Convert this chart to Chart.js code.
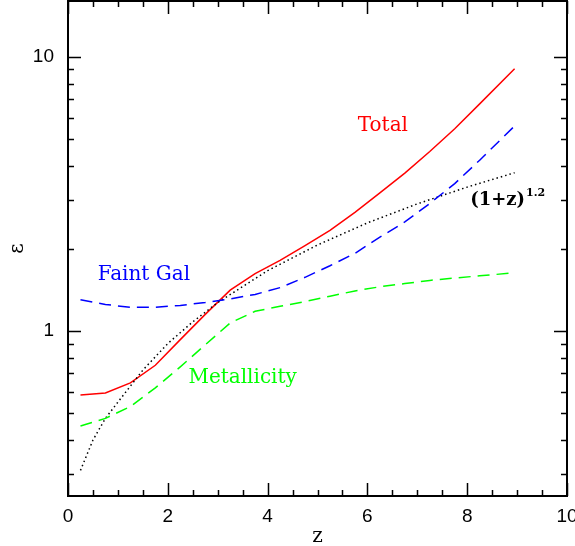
<!DOCTYPE html>
<html>
<head>
<meta charset="utf-8">
<script src="https://cdn.jsdelivr.net/npm/chart.js@4/dist/chart.umd.min.js"></script>
<style>
  html, body { margin: 0; padding: 0; background: #fff; }
  #wrap { width: 575px; height: 546px; }
</style>
</head>
<body>
<div id="wrap"><canvas id="c"></canvas></div>
<script>
// redshift grid for the three model curves
const zGrid = [0.25, 0.75, 1.25, 1.75, 2.25, 2.75, 3.25, 3.75, 4.25, 4.75, 5.25, 5.75, 6.25, 6.75, 7.25, 7.75, 8.25, 8.95];
const totalEps = [0.584, 0.594, 0.647, 0.75, 0.93, 1.15, 1.41, 1.62, 1.81, 2.05, 2.33, 2.71, 3.19, 3.77, 4.52, 5.47, 6.74, 9.05];
const faintGalEps = [1.30, 1.25, 1.22, 1.22, 1.24, 1.27, 1.31, 1.36, 1.44, 1.57, 1.73, 1.92, 2.2, 2.5, 2.92, 3.45, 4.2, 5.6];
const metalEps = [0.45, 0.48, 0.53, 0.62, 0.74, 0.89, 1.07, 1.18, 1.23, 1.28, 1.34, 1.40, 1.45, 1.49, 1.53, 1.56, 1.59, 1.63];

// the dotted (1+z)^1.2 reference curve
const zPow = [0.25, 0.5, 0.75, 1, 1.5, 2, 2.5, 3, 4, 5, 6, 7, 8, 8.95];
const powEps = [0.31, 0.40, 0.48, 0.55, 0.72, 0.90, 1.08, 1.27, 1.66, 2.06, 2.48, 2.91, 3.35, 3.78];

// axis ticks
const xMajor = [0, 2, 4, 6, 8, 10];
const xMinor = [0.5, 1, 1.5, 2.5, 3, 3.5, 4.5, 5, 5.5, 6.5, 7, 7.5, 8.5, 9, 9.5];
const yMajor = [1, 10];
const yMinor = [0.3, 0.4, 0.5, 0.6, 0.7, 0.8, 0.9, 2, 3, 4, 5, 6, 7, 8, 9];

const pts = (xs, ys) => xs.map((x, i) => ({ x: x, y: ys[i] }));

const curveLabels = [
    { text: 'Total', z: 6.31, eps: 5.6, color: '#ff0000' },
    { text: 'Faint Gal', z: 1.52, eps: 1.61, color: '#0000ff' },
    { text: 'Metallicity', z: 3.5, eps: 0.673, color: '#00ff00' }
];

// frame with inward ticks on all four sides + curve labels
const framePlugin = {
    id: 'frame',
    afterDatasetsDraw(chart) {
        const ctx = chart.ctx;
        const a = chart.chartArea;
        const xs = chart.scales.x, ys = chart.scales.y;
        ctx.save();
        ctx.strokeStyle = '#000';
        ctx.lineWidth = 1.5;
        ctx.beginPath();
        const tick = (v, len, axis) => {
            if (axis === 'x') {
                const p = Math.round(xs.getPixelForValue(v)) + 0.5;
                ctx.moveTo(p, a.bottom); ctx.lineTo(p, a.bottom - len);
                ctx.moveTo(p, a.top); ctx.lineTo(p, a.top + len);
            } else {
                const p = Math.round(ys.getPixelForValue(v)) + 0.5;
                ctx.moveTo(a.left, p); ctx.lineTo(a.left + len, p);
                ctx.moveTo(a.right, p); ctx.lineTo(a.right - len, p);
            }
        };
        xMajor.forEach(v => tick(v, 13, 'x'));
        xMinor.forEach(v => tick(v, 6, 'x'));
        yMajor.forEach(v => tick(v, 13, 'y'));
        yMinor.forEach(v => tick(v, 6, 'y'));
        ctx.stroke();
        ctx.lineWidth = 2;
        ctx.strokeRect(a.left, a.top, a.right - a.left, a.bottom - a.top);

        ctx.font = '20px "DejaVu Serif"';
        ctx.textAlign = 'center';
        ctx.textBaseline = 'middle';
        curveLabels.forEach(l => {
            ctx.fillStyle = l.color;
            ctx.fillText(l.text, xs.getPixelForValue(l.z), ys.getPixelForValue(l.eps));
        });

        // (1+z)^1.2
        ctx.fillStyle = '#000';
        ctx.textAlign = 'left';
        ctx.font = 'bold 18px "DejaVu Serif"';
        const px = xs.getPixelForValue(8.06), py = ys.getPixelForValue(2.99);
        ctx.fillText('(1+z)', px, py);
        const w = ctx.measureText('(1+z)').width;
        ctx.font = 'bold 11px "DejaVu Serif"';
        ctx.fillText('1.2', px + w + 1, py - 7);
        ctx.restore();
    }
};

const noPad = s => { s.paddingTop = 0; s.paddingBottom = 0; s.paddingLeft = 0; s.paddingRight = 0; };

new Chart(document.getElementById('c'), {
    type: 'scatter',
    data: {
        datasets: [
            {
                label: 'Metallicity', data: pts(zGrid, metalEps),
                borderColor: '#00ff00', borderWidth: 1.5, borderDash: [12, 7]
            },
            {
                label: 'Faint Gal', data: pts(zGrid, faintGalEps),
                borderColor: '#0000ff', borderWidth: 1.5, borderDash: [12, 7]
            },
            {
                label: '(1+z)^1.2', data: pts(zPow, powEps),
                borderColor: '#000000', borderWidth: 1.5, borderDash: [1.5, 3]
            },
            {
                label: 'Total', data: pts(zGrid, totalEps),
                borderColor: '#ff0000', borderWidth: 1.5
            }
        ]
    },
    options: {
        responsive: true,
        maintainAspectRatio: false,
        animation: false,
        showLine: true,
        elements: { point: { radius: 0 }, line: { tension: 0 } },
        layout: { padding: { left: 0, right: 8, top: 1, bottom: 0 } },
        plugins: { legend: { display: false }, tooltip: { enabled: false } },
        scales: {
            x: {
                type: 'linear', min: 0, max: 10,
                afterBuildTicks: s => { s.ticks = xMajor.map(v => ({ value: v })); },
                afterFit: s => { s.height = 50; noPad(s); },
                grid: { display: false, drawTicks: false },
                border: { display: false },
                ticks: { color: '#000', padding: 9, font: { family: '"Liberation Sans"', size: 19 } },
                title: { display: true, text: 'z', color: '#000', padding: { top: 0, bottom: -3 },
                         font: { family: '"DejaVu Serif"', size: 20 } }
            },
            y: {
                type: 'logarithmic', min: 0.25, max: 16,
                afterBuildTicks: s => { s.ticks = yMajor.map(v => ({ value: v })); },
                afterFit: s => { s.width = 68; noPad(s); },
                grid: { display: false, drawTicks: false },
                border: { display: false },
                ticks: { color: '#000', padding: 14, callback: v => String(v),
                         font: { family: '"Liberation Sans"', size: 19 } },
                title: { display: true, text: 'ε', color: '#000', padding: { top: 6, bottom: 0 },
                         font: { family: '"DejaVu Serif"', size: 20 } }
            }
        }
    },
    plugins: [framePlugin]
});
</script>
</body>
</html>
